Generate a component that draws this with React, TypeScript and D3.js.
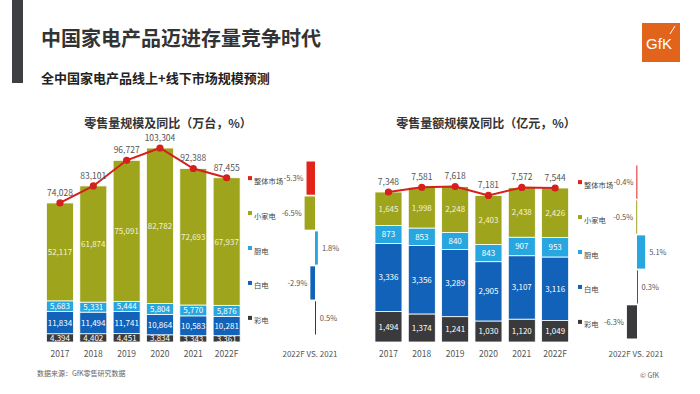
import React from "react";
import * as d3 from "d3";

const years = ["2017", "2018", "2019", "2020", "2021", "2022F"];
const volTV = [4394, 4402, 4451, 3834, 3343, 3361];
const volWhite = [11834, 11494, 11741, 10864, 10583, 10281];
const volKitchen = [5683, 5331, 5444, 5804, 5770, 5876];
const volSmall = [52117, 61874, 75091, 82782, 72693, 67937];
const volTotal = [74028, 83101, 96727, 103304, 92388, 87455];

const valTV = [1494, 1374, 1241, 1030, 1120, 1049];
const valWhite = [3336, 3356, 3289, 2905, 3107, 3116];
const valKitchen = [873, 853, 840, 843, 907, 953];
const valSmall = [1645, 1998, 2248, 2403, 2438, 2426];
const valTotal = [7348, 7581, 7618, 7181, 7572, 7544];

const legendNames = ["整体市场", "小家电", "厨电", "白电", "彩电"];
const volYoY = [-5.3, -6.5, 1.8, -2.9, 0.5];
const valYoY = [-0.4, -0.5, 5.1, 0.3, -6.3];

const COLORS: Record<string, string> = {
  整体市场: "#e2231a",
  小家电: "#9ea41b",
  厨电: "#27a6df",
  白电: "#1162b8",
  彩电: "#3a3a3c",
};
const LINE = "#d5201d";
const FONT = "'Noto Sans CJK SC', 'Noto Sans', sans-serif";
const fmt = d3.format(",");

type StackCfg = {
  tv: number[];
  white: number[];
  kitchen: number[];
  small: number[];
  total: number[];
  x0: number;
  yMax: number;
  yTopPx: number;
};

function StackChart({ tv, white, kitchen, small, total, x0, yMax, yTopPx }: StackCfg) {
  const bottom = 342;
  const x = d3.scaleBand<string>().domain(years).range([x0, x0 + 200]).paddingInner(0.19).paddingOuter(0.095);
  const y = d3.scaleLinear().domain([0, yMax]).range([bottom, yTopPx]);
  const rows = years.map((yr, i) => ({ yr, 彩电: tv[i], 白电: white[i], 厨电: kitchen[i], 小家电: small[i] }));
  const keys = ["彩电", "白电", "厨电", "小家电"];
  const series = d3.stack<any>().keys(keys)(rows);
  const cx = (yr: string) => (x(yr) as number) + x.bandwidth() / 2;
  const line = d3
    .line<number>()
    .x((_, i) => cx(years[i]))
    .y((d) => y(d));
  return (
    <g>
      {series.map((s) => (
        <g key={s.key}>
          {s.map((d, i) => {
            const yr = years[i];
            const h = y(d[0]) - y(d[1]);
            return (
              <g key={yr}>
                <rect
                  x={x(yr)}
                  y={y(d[1])}
                  width={x.bandwidth()}
                  height={h}
                  fill={COLORS[s.key]}
                  stroke="#ffffff"
                  strokeWidth={0.8}
                />
                <text
                  x={cx(yr)}
                  y={(y(d[0]) + y(d[1])) / 2 + 3}
                  textAnchor="middle"
                  fontSize={8}
                  fill={s.key === "小家电" ? "#f4f2d8" : "#ffffff"}
                  fontFamily={FONT}
                >
                  {fmt(d[1] - d[0])}
                </text>
              </g>
            );
          })}
        </g>
      ))}
      <path d={line(total) || ""} fill="none" stroke={LINE} strokeWidth={2} />
      {total.map((t, i) => (
        <g key={i}>
          <circle cx={cx(years[i])} cy={y(t)} r={3.6} fill={LINE} />
          <text x={cx(years[i])} y={y(t) - 7} textAnchor="middle" fontSize={8.5} fill="#555" fontFamily={FONT}>
            {fmt(t)}
          </text>
        </g>
      ))}
      {years.map((yr) => (
        <text key={yr} x={cx(yr)} y={357} textAnchor="middle" fontSize={8.5} fill="#555" fontFamily={FONT}>
          {yr}
        </text>
      ))}
    </g>
  );
}

type YoYCfg = { values: number[]; zeroX: number; top: number; legendX: number; footX: number };

function YoYChart({ values, zeroX, top, legendX, footX }: YoYCfg) {
  const xs = d3.scaleLinear().domain([-10, 10]).range([zeroX - 16, zeroX + 16]);
  const rows = d3.scaleBand<string>().domain(legendNames).range([top, top + 173]).paddingInner(0.05);
  return (
    <g>
      {legendNames.map((name, i) => {
        const v = values[i];
        const ry = rows(name) as number;
        const cy = ry + rows.bandwidth() / 2;
        const w = Math.max(Math.abs(xs(v) - xs(0)), 1);
        const lx = v < 0 ? xs(v) - 3 : xs(v) + 4;
        return (
          <g key={name}>
            <rect x={legendX} y={cy + 3 - 5} width={4} height={4} fill={COLORS[name]} />
            <text x={legendX + 6} y={cy + 5.5} fontSize={7.3} fill="#444" fontFamily={FONT}>
              {name}
            </text>
            <rect x={v < 0 ? xs(v) : xs(0)} y={ry} width={w} height={rows.bandwidth()} fill={COLORS[name]} />
            <text
              x={lx}
              y={cy + 3}
              textAnchor={v < 0 ? "end" : "start"}
              fontSize={7.5}
              fill="#555"
              fontFamily={FONT}
            >
              {`${v}%`}
            </text>
          </g>
        );
      })}
      <text x={footX} y={357} textAnchor="middle" fontSize={8} fill="#555" fontFamily={FONT}>
        2022F VS. 2021
      </text>
    </g>
  );
}

export default function App() {
  return (
    <svg
      width={700}
      height={394}
      viewBox="0 0 700 394"
      style={{ position: "absolute", left: 0, top: 0, background: "#ffffff" }}
    >
      <rect x={0} y={0} width={700} height={394} fill="#ffffff" />
      <rect x={12} y={0} width={11} height={83} fill="#3d3f43" />
      <text x={41} y={46} fontSize={20} fontWeight="bold" fill="#333" fontFamily={FONT}>
        中国家电产品迈进存量竞争时代
      </text>
      <text x={41} y={83} fontSize={13} fontWeight="bold" fill="#222" fontFamily={FONT}>
        全中国家电产品线上+线下市场规模预测
      </text>
      <rect x={642} y={23} width={38} height={39} fill="#e2631b" />
      <text x={659} y={49} textAnchor="middle" fontSize={15} fill="#ffffff" fontFamily="'Liberation Sans', sans-serif">
        GfK
      </text>
      <line x1={670} y1={34} x2={675} y2={26} stroke="#fff" strokeWidth={1} />

      <text x={168} y={128} textAnchor="middle" fontSize={12} fontWeight="bold" fill="#333" fontFamily={FONT}>
        零售量规模及同比（万台，%）
      </text>
      <text x={486} y={128} textAnchor="middle" fontSize={12} fontWeight="bold" fill="#333" fontFamily={FONT}>
        零售量额规模及同比（亿元，%）
      </text>

      <StackChart
        tv={volTV}
        white={volWhite}
        kitchen={volKitchen}
        small={volSmall}
        total={volTotal}
        x0={43.3}
        yMax={110000}
        yTopPx={135.4}
      />
      <StackChart
        tv={valTV}
        white={valWhite}
        kitchen={valKitchen}
        small={valSmall}
        total={valTotal}
        x0={371.8}
        yMax={8000}
        yTopPx={178.7}
      />
      <YoYChart values={volYoY} zeroX={315} top={161.5} legendX={248} footX={310} />
      <YoYChart values={valYoY} zeroX={637} top={165.5} legendX={578} footX={636} />

      <text x={37} y={376} fontSize={7} fill="#666" fontFamily={FONT}>
        数据来源：GfK零售研究数据
      </text>
      <text x={640} y={378} fontSize={7} fill="#666" fontFamily={FONT}>
        © GfK
      </text>
    </svg>
  );
}
